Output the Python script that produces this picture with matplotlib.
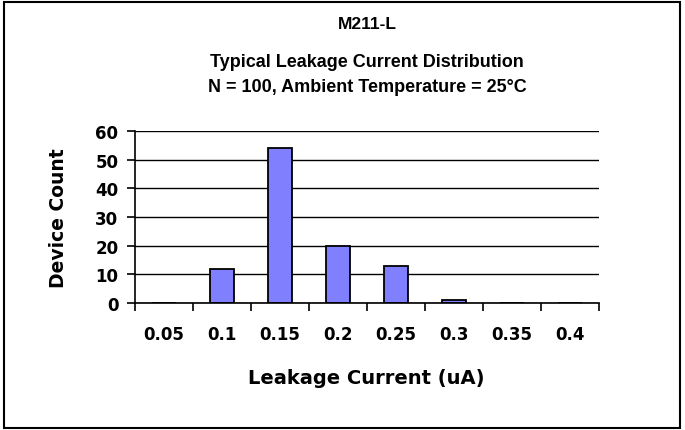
import matplotlib
matplotlib.use("Agg")
import matplotlib.pyplot as plt
from matplotlib.patches import Rectangle

# leakage current bins (uA) and device counts
bins = ["0.05", "0.1", "0.15", "0.2", "0.25", "0.3", "0.35", "0.4"]
counts = [0, 12, 54, 20, 13, 1, 0, 0]
y_ticks = [0, 10, 20, 30, 40, 50, 60]

part_name = "M211-L"
title_1 = "Typical Leakage Current Distribution"
title_2 = "N = 100, Ambient Temperature = 25\u00b0C"

plt.rcParams['font.family'] = ['Liberation Sans', 'DejaVu Sans']
plt.rcParams['font.weight'] = 'bold'
WIDE = ['DejaVu Sans']

W, H = 685, 431
fig = plt.figure(figsize=(W / 100, H / 100), dpi=100)

# axes placed in pixel terms of the reference
left, right, top, bottom = 135, 599, 132, 304
ax = fig.add_axes([left / W, 1 - bottom / H, (right - left) / W, (bottom - top) / H])

x = list(range(len(bins)))
ax.bar(x, counts, width=0.4, color='#8080FF', edgecolor='black', linewidth=1.3, zorder=3)

ax.set_xlim(-0.5, len(bins) - 0.5)
ax.set_ylim(0, 60)
ax.set_yticks(y_ticks)
ax.yaxis.grid(True, color='black', linewidth=1.0, zorder=0)
ax.set_axisbelow(True)

for s in ['top', 'right']:
    ax.spines[s].set_visible(False)
for s in ['left', 'bottom']:
    ax.spines[s].set_linewidth(1.2)
    ax.spines[s].set_zorder(4)

# tick marks between categories, labels at the centres
ax.set_xticks([i - 0.5 for i in range(len(bins) + 1)])
ax.set_xticklabels([])
ax.set_xticks(x, minor=True)
ax.set_xticklabels(bins, minor=True, family=WIDE, fontweight='bold')
ax.tick_params(axis='x', which='major', direction='out', length=6, width=1.2)
ax.tick_params(axis='x', which='minor', length=0, pad=16, labelsize=12)
ax.tick_params(axis='y', direction='out', length=6, width=1.2, pad=6, labelsize=12)
for lab in ax.get_yticklabels():
    lab.set_family(WIDE)
    lab.set_fontweight('bold')

ax.set_ylabel("Device Count", fontsize=13.5, fontweight='bold', family=WIDE)
ax.yaxis.set_label_coords(-0.144, 0.5)

fig.text(366 / W, 1 - 384 / H, "Leakage Current (uA)", ha='center', va='baseline',
         fontsize=14, fontweight='bold', family=WIDE)

cx = (left + right) / 2 / W
fig.text(cx, 1 - 29 / H, part_name, ha='center', va='baseline', fontsize=12.5, fontweight='bold')
fig.text(cx, 1 - 67 / H, title_1, ha='center', va='baseline', fontsize=13, fontweight='bold')
fig.text(cx, 1 - 92 / H, title_2, ha='center', va='baseline', fontsize=13, fontweight='bold')

# chart border
fig.patches.append(Rectangle((4 / W, 2 / H), (680 - 4) / W, (428 - 2) / H, transform=fig.transFigure,
                             fill=False, edgecolor='black', linewidth=1.5))

fig.savefig("out.png", dpi=100)
